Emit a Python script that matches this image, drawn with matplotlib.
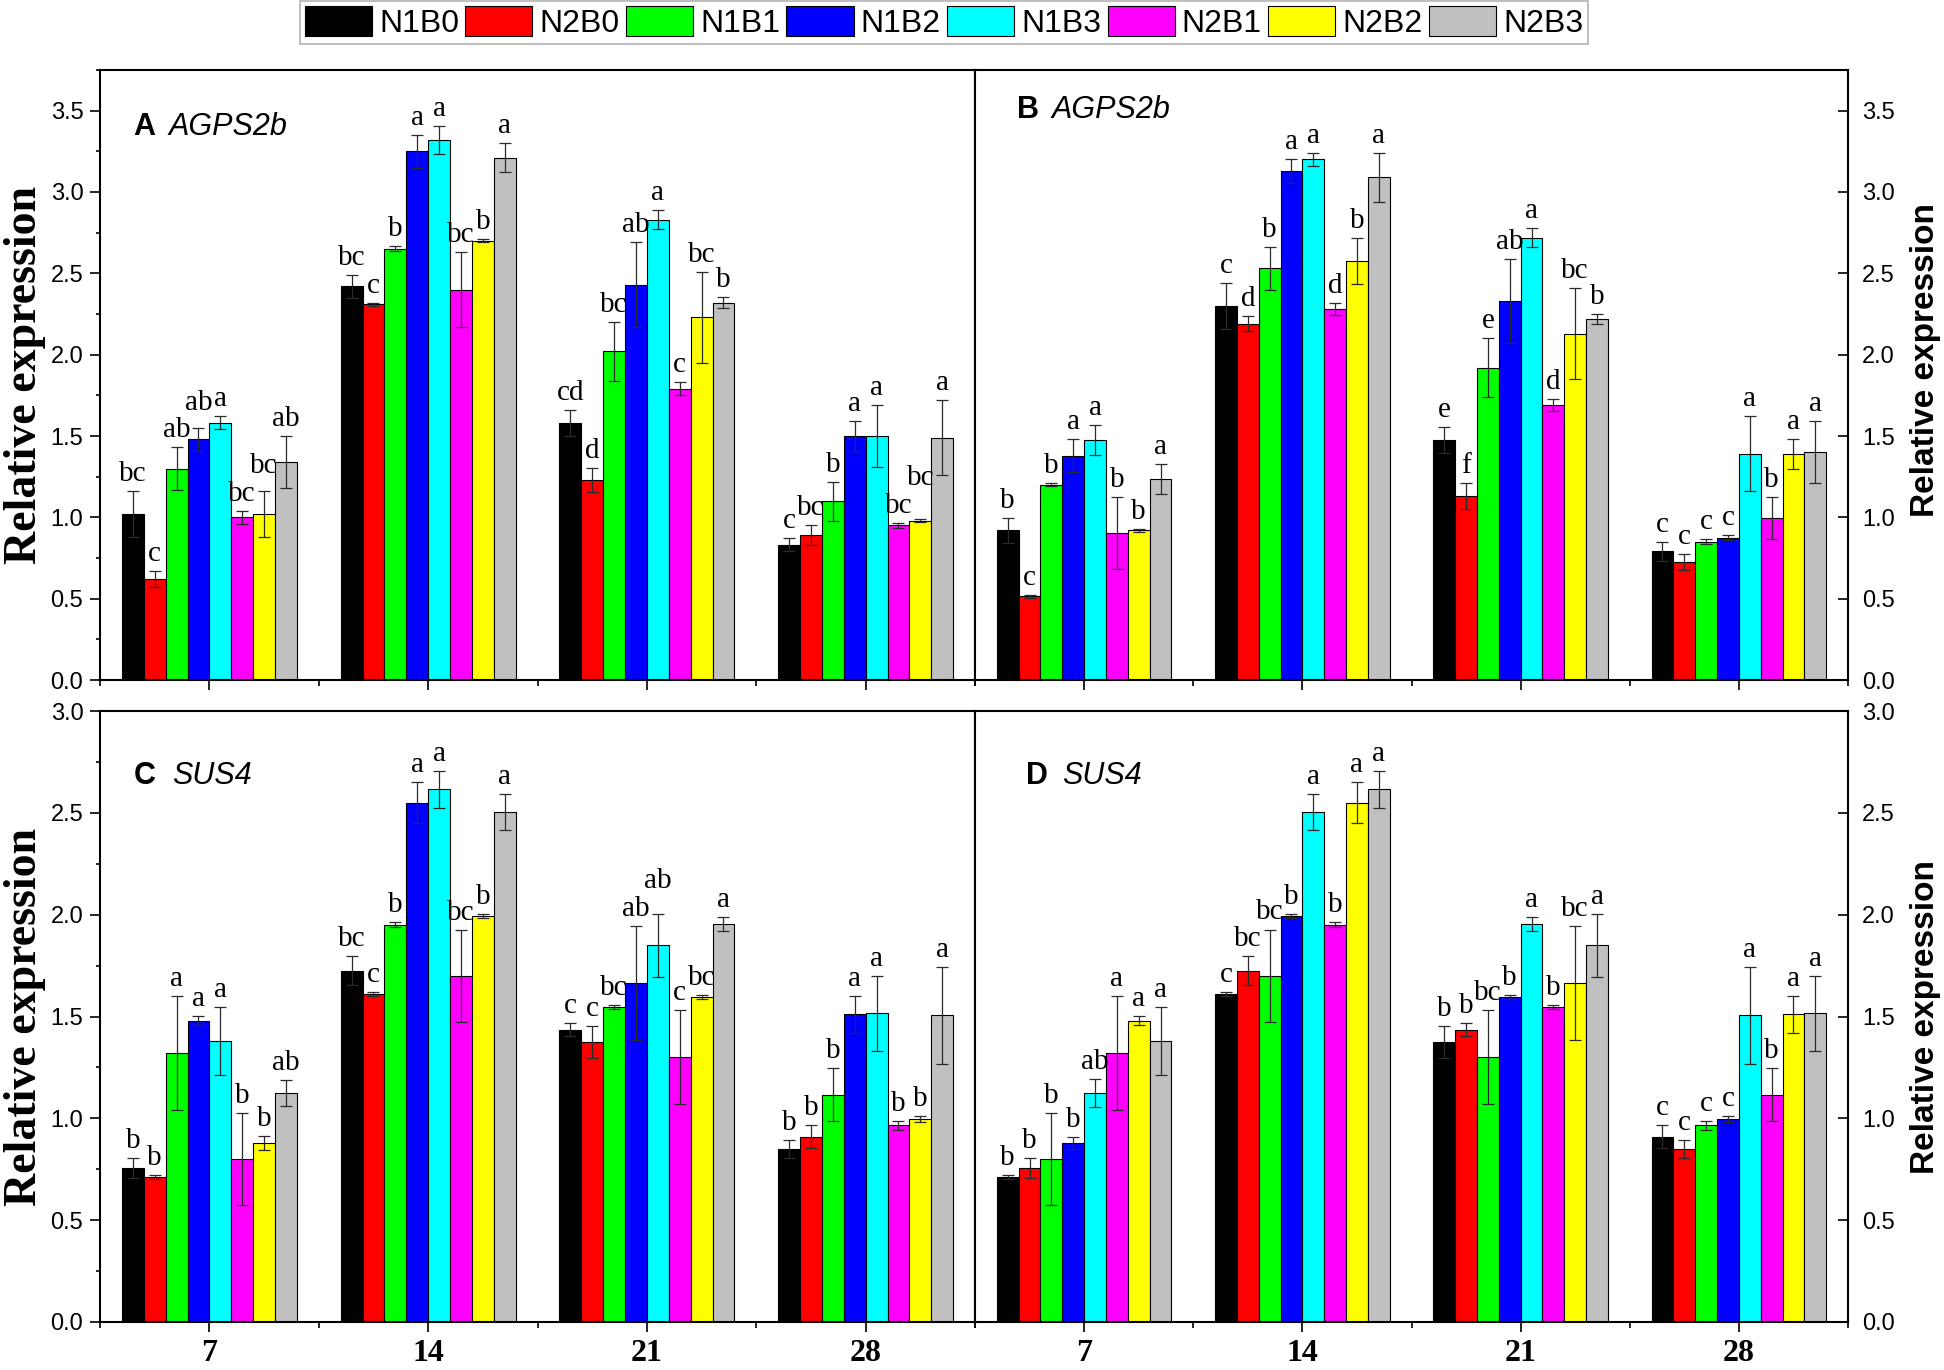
import numpy as np
import matplotlib.pyplot as plt
from matplotlib.ticker import MultipleLocator
from matplotlib.font_manager import FontProperties

days = ['7', '14', '21', '28']
treatments = ['N1B0', 'N2B0', 'N1B1', 'N1B2', 'N1B3', 'N2B1', 'N2B2', 'N2B3']
colors = ['#000000', '#ff0000', '#00ff00', '#0000ff', '#00ffff', '#ff00ff', '#ffff00', '#c0c0c0']

# rows = treatments, columns = days
a_vals = [[1.02, 2.42, 1.58, 0.83], [0.62, 2.31, 1.23, 0.89], [1.30, 2.65, 2.02, 1.10],
          [1.48, 3.25, 2.43, 1.50], [1.58, 3.32, 2.83, 1.50], [1.00, 2.40, 1.79, 0.95],
          [1.02, 2.70, 2.23, 0.98], [1.34, 3.21, 2.32, 1.49]]
a_errs = [[0.14, 0.07, 0.08, 0.04], [0.05, 0.01, 0.075, 0.06], [0.13, 0.015, 0.18, 0.12],
          [0.07, 0.10, 0.26, 0.09], [0.04, 0.085, 0.06, 0.19], [0.04, 0.23, 0.04, 0.015],
          [0.14, 0.01, 0.28, 0.01], [0.16, 0.09, 0.035, 0.23]]
a_letters = [['bc', 'bc', 'cd', 'c'], ['c', 'c', 'd', 'bc'], ['ab', 'b', 'bc', 'b'],
             ['ab', 'a', 'ab', 'a'], ['a', 'a', 'a', 'a'], ['bc', 'bc', 'c', 'bc'],
             ['bc', 'b', 'bc', 'bc'], ['ab', 'a', 'b', 'a']]

b_vals = [[0.92, 2.30, 1.475, 0.79], [0.515, 2.19, 1.13, 0.725], [1.20, 2.53, 1.92, 0.85],
          [1.38, 3.13, 2.33, 0.875], [1.475, 3.20, 2.72, 1.39], [0.905, 2.28, 1.69, 0.995],
          [0.92, 2.575, 2.13, 1.39], [1.235, 3.09, 2.22, 1.40]]
b_errs = [[0.075, 0.14, 0.08, 0.06], [0.01, 0.045, 0.08, 0.05], [0.01, 0.13, 0.18, 0.015],
          [0.10, 0.075, 0.26, 0.015], [0.09, 0.04, 0.06, 0.23], [0.22, 0.035, 0.035, 0.13],
          [0.01, 0.14, 0.28, 0.09], [0.09, 0.15, 0.03, 0.19]]
b_letters = [['b', 'c', 'e', 'c'], ['c', 'd', 'f', 'c'], ['b', 'b', 'e', 'c'],
             ['a', 'a', 'ab', 'c'], ['a', 'a', 'a', 'a'], ['b', 'd', 'd', 'b'],
             ['b', 'b', 'bc', 'a'], ['a', 'a', 'b', 'a']]

c_vals = [[0.755, 1.725, 1.435, 0.85], [0.71, 1.61, 1.375, 0.91], [1.32, 1.95, 1.545, 1.115],
          [1.48, 2.55, 1.665, 1.51], [1.38, 2.615, 1.85, 1.515], [0.80, 1.70, 1.30, 0.965],
          [0.88, 1.995, 1.595, 0.995], [1.125, 2.505, 1.955, 1.505]]
c_errs = [[0.048, 0.07, 0.033, 0.045], [0.01, 0.01, 0.08, 0.055], [0.28, 0.013, 0.01, 0.13],
          [0.024, 0.10, 0.28, 0.09], [0.165, 0.09, 0.155, 0.186], [0.225, 0.225, 0.23, 0.02],
          [0.035, 0.01, 0.01, 0.015], [0.065, 0.087, 0.035, 0.24]]
c_letters = [['b', 'bc', 'c', 'b'], ['b', 'c', 'c', 'b'], ['a', 'b', 'bc', 'b'],
             ['a', 'a', 'ab', 'a'], ['a', 'a', 'ab', 'a'], ['b', 'bc', 'c', 'b'],
             ['b', 'b', 'bc', 'b'], ['ab', 'a', 'a', 'a']]

d_vals = [[0.71, 1.61, 1.375, 0.91], [0.755, 1.725, 1.435, 0.85], [0.80, 1.70, 1.30, 0.965],
          [0.88, 1.995, 1.595, 0.995], [1.125, 2.505, 1.955, 1.505], [1.32, 1.95, 1.545, 1.115],
          [1.48, 2.55, 1.665, 1.51], [1.38, 2.615, 1.85, 1.515]]
d_errs = [[0.01, 0.01, 0.08, 0.055], [0.05, 0.07, 0.033, 0.045], [0.227, 0.225, 0.23, 0.02],
          [0.03, 0.01, 0.01, 0.015], [0.067, 0.087, 0.035, 0.24], [0.28, 0.013, 0.01, 0.13],
          [0.024, 0.10, 0.28, 0.09], [0.165, 0.09, 0.155, 0.186]]
d_letters = [['b', 'c', 'b', 'c'], ['b', 'bc', 'b', 'c'], ['b', 'bc', 'bc', 'c'],
             ['b', 'b', 'b', 'c'], ['ab', 'a', 'a', 'a'], ['a', 'b', 'b', 'b'],
             ['a', 'a', 'bc', 'a'], ['a', 'a', 'a', 'a']]

SANS = 'Liberation Sans'
SERIF = 'Liberation Serif'
LETTER_SIZE = 21


def place_letters(fig, ax, pos, tops, letters):
    # letters go just above the error bar; when one runs into its left
    # neighbour it is stacked on top of it, as in the original figure
    r = fig.canvas.get_renderer()
    fp = FontProperties(family=SERIF, size=LETTER_SIZE)
    px_to_pt = 72.0 / fig.dpi
    step = 0.95 * LETTER_SIZE / px_to_pt
    for g in range(len(days)):
        prev = None
        for i in range(len(treatments)):
            t = letters[i][g]
            xp, yp = ax.transData.transform((pos[i][g], tops[i][g]))
            wpx = r.get_text_width_height_descent(t, fp, ismath=False)[0]
            base = yp + 4
            x0 = xp - wpx / 2
            if prev is not None and x0 < prev[0] - 1 and base < prev[1] + step:
                base = prev[1] + step
            ax.annotate(t, (pos[i][g], tops[i][g]), xytext=(0, (base - yp) * px_to_pt),
                        textcoords='offset points', ha='center', va='bottom',
                        family=SERIF, fontsize=LETTER_SIZE)
            prev = (xp + wpx / 2, base)


def draw_panel(fig, ax, vals, errs, letters, ymax, tag, gene, tag_xy, gene_x, side, show_x):
    x = np.arange(1, len(days) + 1)
    w = 0.1
    pos, tops = [], []
    for i, name in enumerate(treatments):
        p = x + (i - 3.5) * w
        ax.bar(p, vals[i], w, yerr=errs[i], color=colors[i], edgecolor='black',
               linewidth=0.8, label=name,
               error_kw=dict(ecolor='#2a2a2a', elinewidth=0.9, capsize=4, capthick=0.9))
        pos.append(p)
        tops.append(np.array(vals[i]) + np.array(errs[i]))

    ax.set_xlim(0.5, 4.5)
    ax.set_ylim(0, ymax)
    ax.set_xticks(x)
    ax.set_xticks(np.arange(0.5, 4.6, 1), minor=True)
    if show_x:
        ax.set_xticklabels(days, family=SERIF, fontweight='bold', fontsize=23)
    else:
        ax.set_xticklabels([])
    ax.yaxis.set_major_locator(MultipleLocator(0.5))
    ax.yaxis.set_major_formatter('{x:.1f}')
    ax.tick_params(axis='x', which='major', direction='out', length=7, width=1.2, pad=5)
    ax.tick_params(axis='x', which='minor', direction='out', length=4, width=1.2)

    if side == 'left':
        ax.yaxis.set_minor_locator(MultipleLocator(0.25))
        ax.tick_params(axis='y', which='major', direction='out', length=7, width=1.2,
                       labelsize=17, pad=5)
        ax.tick_params(axis='y', which='minor', direction='out', length=3, width=1.2)
    else:
        ax.yaxis.tick_right()
        ax.tick_params(axis='y', which='major', direction='in', length=7, width=1.2,
                       labelsize=17, pad=10)
    for lab in ax.get_yticklabels():
        lab.set_family(SANS)

    for s in ax.spines.values():
        s.set_linewidth(1.5)

    place_letters(fig, ax, pos, tops, letters)

    ax.text(tag_xy[0], tag_xy[1], tag, transform=ax.transAxes, family=SANS,
            fontweight='bold', fontsize=22, va='baseline', ha='left')
    ax.text(gene_x, tag_xy[1], gene, transform=ax.transAxes, family=SANS,
            style='italic', fontsize=22, va='baseline', ha='left')


fig = plt.figure(figsize=(19.44, 13.70), dpi=100)
W, H = 1944.0, 1370.0

ax_a = fig.add_axes([100 / W, 1 - 680 / H, 875 / W, 610 / H])
ax_b = fig.add_axes([975 / W, 1 - 680 / H, 873 / W, 610 / H])
ax_c = fig.add_axes([100 / W, 1 - 1322 / H, 875 / W, 611 / H])
ax_d = fig.add_axes([975 / W, 1 - 1322 / H, 873 / W, 611 / H])

draw_panel(fig, ax_a, a_vals, a_errs, a_letters, 3.75, 'A', 'AGPS2b', (0.038, 0.893), 0.078, 'left', False)
draw_panel(fig, ax_b, b_vals, b_errs, b_letters, 3.75, 'B', 'AGPS2b', (0.048, 0.921), 0.088, 'right', False)
draw_panel(fig, ax_c, c_vals, c_errs, c_letters, 3.0, 'C', 'SUS4', (0.039, 0.881), 0.082, 'left', True)
draw_panel(fig, ax_d, d_vals, d_errs, d_letters, 3.0, 'D', 'SUS4', (0.058, 0.881), 0.100, 'right', True)

# y labels
for ax in (ax_a, ax_c):
    box = ax.get_position()
    fig.text(25 / W, box.y0 + box.height / 2, 'Relative expression', rotation=90,
             ha='center', va='center', family=SERIF, fontweight='bold', fontsize=33)
for ax, shift in ((ax_b, 15), (ax_d, 0)):
    box = ax.get_position()
    fig.text(1925 / W, box.y0 + box.height / 2 + shift / H, 'Relative expression', rotation=90,
             ha='center', va='center', family=SANS, fontweight='bold', fontsize=24)

handles, labels = ax_a.get_legend_handles_labels()
leg = fig.legend(handles, labels, loc='center', bbox_to_anchor=(944 / W, 1 - 22.5 / H), ncol=8,
                 prop={'family': SANS, 'size': 23}, frameon=True, fancybox=False,
                 edgecolor='#a0a0a0', borderpad=0.15, handlelength=2.1, handleheight=1.05,
                 handletextpad=0.22, columnspacing=0.2, borderaxespad=0)
leg.get_frame().set_linewidth(1.2)

fig.savefig('out.png', dpi=100)
